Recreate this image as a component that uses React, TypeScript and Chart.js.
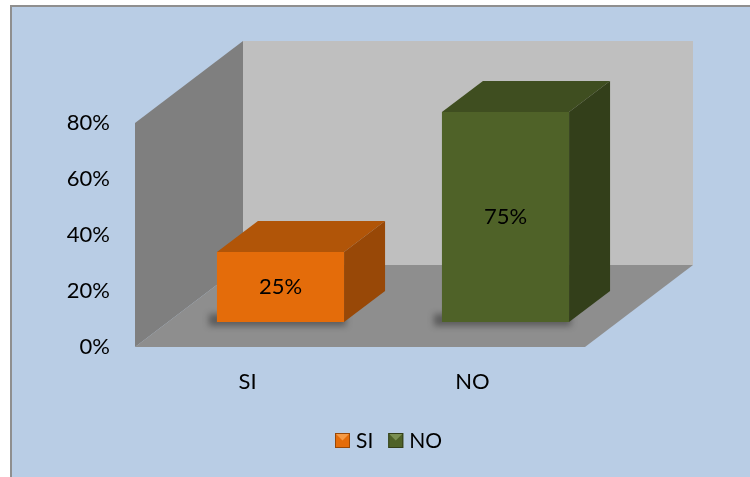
import React, { useEffect, useRef } from 'react';
import { Chart, registerables } from 'chart.js';

Chart.register(...registerables);

// ---- data ----
const categories = ['SI', 'NO'];
const values = [0.25, 0.75];
const yTickValues = [0, 0.2, 0.4, 0.6, 0.8];

// ---- styles ----
const frontColors = ['#E46C0A', '#4F6228'];
const topColors = ['#B15508', '#3F4E20'];
const sideColors = ['#984807', '#333F1A'];
const FONT = 'Lato, "Open Sans", sans-serif';
const WALL = { dx: 108, dy: -82 };
const BAR_OFF = { dx: 33, dy: -25 };
const BAR_DEPTH = { dx: 41, dy: -31 };

function poly(ctx: CanvasRenderingContext2D, pts: number[][], fill: string) {
  ctx.beginPath();
  ctx.moveTo(pts[0][0], pts[0][1]);
  for (let i = 1; i < pts.length; i++) ctx.lineTo(pts[i][0], pts[i][1]);
  ctx.closePath();
  ctx.fillStyle = fill;
  ctx.fill();
}

const excel3d = {
  id: 'excel3d',
  beforeDraw(chart: any) {
    const { ctx, width, height } = chart;
    ctx.save();
    ctx.fillStyle = '#ffffff';
    ctx.fillRect(0, 0, width, height);
    ctx.fillStyle = '#B9CDE5';
    ctx.fillRect(10, 5, width - 10, height - 5);
    ctx.strokeStyle = '#8F8F8F';
    ctx.lineWidth = 2;
    ctx.beginPath();
    ctx.moveTo(11, height);
    ctx.lineTo(11, 6);
    ctx.lineTo(width, 6);
    ctx.stroke();
    ctx.restore();
  },
  beforeDatasetsDraw(chart: any) {
    const { ctx, chartArea: a } = chart;
    ctx.save();
    // back wall
    ctx.fillStyle = '#BFBFBF';
    ctx.fillRect(a.left + WALL.dx, a.top + WALL.dy, a.right - a.left, a.bottom - a.top);
    // left wall
    poly(ctx, [
      [a.left, a.top], [a.left + WALL.dx, a.top + WALL.dy],
      [a.left + WALL.dx, a.bottom + WALL.dy], [a.left, a.bottom]
    ], '#7F7F7F');
    // floor
    poly(ctx, [
      [a.left, a.bottom], [a.left + WALL.dx, a.bottom + WALL.dy],
      [a.right + WALL.dx, a.bottom + WALL.dy], [a.right, a.bottom]
    ], '#8E8E8E');
    ctx.restore();

    ctx.save();
    ctx.translate(BAR_OFF.dx, BAR_OFF.dy);
    // soft shadows on the floor
    const meta = chart.getDatasetMeta(0);
    meta.data.forEach((el: any) => {
      const { x, base, width } = el.getProps(['x', 'base', 'width'], true);
      ctx.save();
      ctx.filter = 'blur(3px)';
      ctx.fillStyle = 'rgba(0,0,0,0.35)';
      ctx.fillRect(x - width / 2 - 8, base - 8, width + 10, 12);
      ctx.restore();
    });
  },
  afterDatasetsDraw(chart: any) {
    const { ctx } = chart;
    const meta = chart.getDatasetMeta(0);
    meta.data.forEach((el: any, i: number) => {
      const { x, y, base, width } = el.getProps(['x', 'y', 'base', 'width'], true);
      const l = x - width / 2;
      const r = x + width / 2;
      const { dx, dy } = BAR_DEPTH;
      poly(ctx, [[l, y], [r, y], [r + dx, y + dy], [l + dx, y + dy]], topColors[i]);
      poly(ctx, [[r, y], [r + dx, y + dy], [r + dx, base + dy], [r, base]], sideColors[i]);
      ctx.fillStyle = '#000';
      ctx.font = `22px ${FONT}`;
      ctx.textAlign = 'center';
      ctx.textBaseline = 'middle';
      ctx.fillText(Math.round(values[i] * 100) + '%', x, (y + base) / 2);
    });
    ctx.restore();
  },
  afterDraw(chart: any) {
    const { ctx } = chart;
    ctx.save();
    ctx.font = `21px ${FONT}`;
    ctx.textBaseline = 'alphabetic';
    ctx.textAlign = 'left';
    let xPos = 335;
    const boxTop = 433;
    const size = 15;
    categories.forEach((c, i) => {
      ctx.fillStyle = frontColors[i];
      ctx.fillRect(xPos, boxTop, size, size);
      poly(ctx, [[xPos, boxTop], [xPos + size, boxTop], [xPos + size / 2, boxTop + size / 2]], topColors[i] === '#B15508' ? '#F59A45' : '#7A8F52');
      ctx.strokeStyle = sideColors[i];
      ctx.lineWidth = 1;
      ctx.strokeRect(xPos + 0.5, boxTop + 0.5, size - 1, size - 1);
      ctx.fillStyle = '#000';
      ctx.fillText(c, xPos + size + 6, boxTop + 14.5);
      xPos += size + 6 + ctx.measureText(c).width + 15;
    });
    ctx.restore();
  }
};

export default function App() {
  const ref = useRef<HTMLCanvasElement>(null);
  useEffect(() => {
    if (!ref.current) return;
    const chart = new Chart(ref.current, {
      type: 'bar',
      data: {
        labels: categories,
        datasets: [{
          label: 'Serie',
          data: values,
          backgroundColor: frontColors,
          borderWidth: 0,
          categoryPercentage: 1,
          barPercentage: 0.565
        }]
      },
      options: {
        responsive: false,
        animation: false,
        layout: { padding: { left: 0, top: 123, right: 165, bottom: 70 } },
        plugins: { legend: { display: false }, tooltip: { enabled: false } },
        scales: {
          x: {
            grid: { display: false, drawTicks: false },
            border: { display: false },
            ticks: { color: '#000', font: { family: FONT, size: 22 }, padding: 22 },
            afterFit: (s: any) => { s.height = 60; }
          },
          y: {
            min: yTickValues[0],
            max: yTickValues[yTickValues.length - 1],
            grid: { display: false, drawTicks: false },
            border: { display: false },
            ticks: {
              stepSize: yTickValues[1] - yTickValues[0],
              color: '#000',
              font: { family: FONT, size: 22 },
              padding: 25,
              callback: (v: any) => Math.round(Number(v) * 100) + '%'
            },
            afterFit: (s: any) => { s.width = 135; }
          }
        }
      },
      plugins: [excel3d]
    });
    return () => chart.destroy();
  }, []);
  return (
    <div style={{ position: 'absolute', left: 0, top: 0, width: 750, height: 477 }}>
      <canvas ref={ref} width={750} height={477} style={{ width: 750, height: 477, display: 'block' }} />
    </div>
  );
}
